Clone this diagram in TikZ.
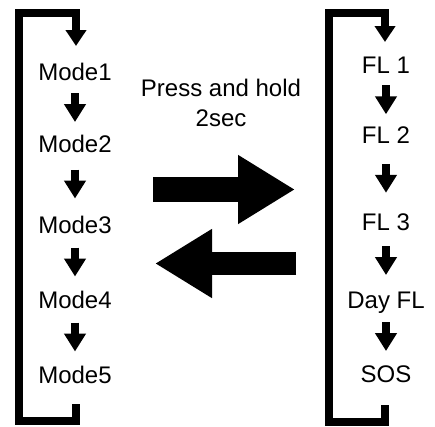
\documentclass[tikz,border=0pt]{standalone}
\usepackage{fontspec}
\setmainfont{Liberation Sans}
\usetikzlibrary{arrows.meta,calc}

\begin{document}
\begin{tikzpicture}[x=1pt,y=-1pt,
    modetext/.style={font=\fontsize{24}{30}\selectfont,inner sep=0pt,text height=17pt,text depth=0pt},
    stepline/.style={line width=8pt,-{Triangle[width=21pt,length=18pt]}},
    cycleline/.style={line width=8pt,-{Triangle[width=20pt,length=16pt]}},
    bigarrow/.style={-{Triangle[width=65pt,length=57pt]}}]
    \useasboundingbox (0,0) rectangle (435,426);
    % left column
    \node[modetext] (m1) at (75,71.5) {Mode1};
    \node[modetext] (m2) at (75,143.5) {Mode2};
    \node[modetext] (m3) at (75,224.5) {Mode3};
    \node[modetext] (m4) at (75,299.5) {Mode4};
    \node[modetext] (m5) at (75,374.5) {Mode5};
    % right column
    \node[modetext] (f1) at (386,64.5) {FL 1};
    \node[modetext] (f2) at (386,135) {FL 2};
    \node[modetext] (f3) at (386,221.5) {FL 3};
    \node[modetext] (f4) at (386,299.5) {Day FL};
    \node[modetext] (f5) at (386,373.5) {SOS};
    \node[font=\fontsize{24}{30}\selectfont,align=center,inner sep=0pt] (hold) at (221,103)
      {Press and hold\\2sec};
    \foreach \a/\b in {m1/m2,m2/m3,m3/m4,m4/m5,f1/f2,f2/f3,f3/f4,f4/f5}
      \draw[stepline] ($(\a)!.5!(\b)+(0,-14.5)$) -- ($(\a)!.5!(\b)+(0,14.5)$);
    % return loops
    \coordinate (ltop) at (76,46);
    \coordinate (lbot) at (76,404);
    \draw[cycleline] (lbot) -- (76,421) -- (19,421) -- (19,12.5) -- (76,12.5) -- (ltop);
    \coordinate (rtop) at (385,42);
    \coordinate (rbot) at (385,405);
    \draw[cycleline] (rbot) -- (385,422) -- (329,422) -- (329,12.5) -- (385,12.5) -- (rtop);
    % switch arrows
    \coordinate (gofrom) at (153,189.5);
    \coordinate (goto) at (295,189.5);
    \coordinate (backfrom) at (296,263.5);
    \coordinate (backto) at (155,263.5);
    \draw[bigarrow,line width=25pt] (gofrom) -- (goto);
    \draw[bigarrow,line width=23pt] (backfrom) -- (backto);
  \end{tikzpicture}
\end{document}
